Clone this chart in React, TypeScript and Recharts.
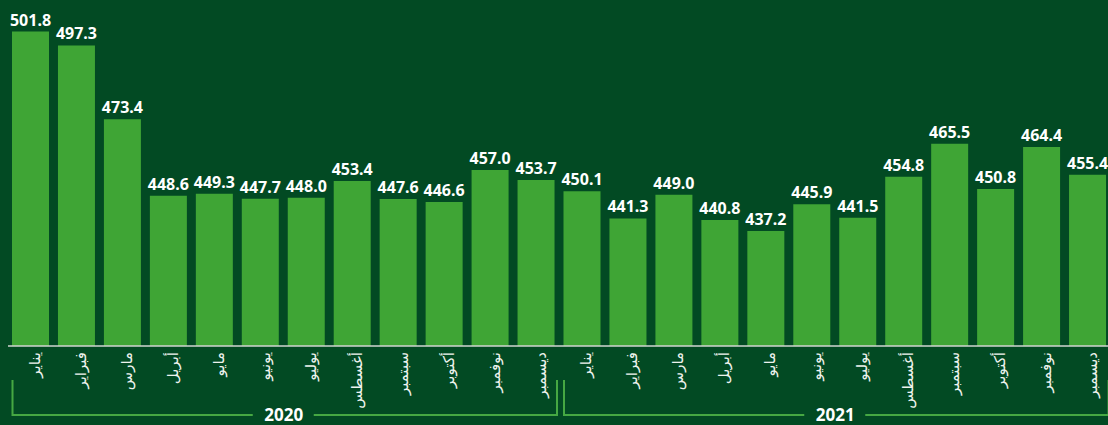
import React from 'react';
import { BarChart, Bar, XAxis, YAxis, LabelList } from 'recharts';

const months = [
  'يناير', 'فبراير', 'مارس', 'أبريل', 'مايو', 'يونيو',
  'يوليو', 'أغسطس', 'سبتمبر', 'أكتوبر', 'نوفمبر', 'ديسمبر'
];
const years = ['2020', '2021'];
const values2020 = [501.8, 497.3, 473.4, 448.6, 449.3, 447.7, 448.0, 453.4, 447.6, 446.6, 457.0, 453.7];
const values2021 = [450.1, 441.3, 449.0, 440.8, 437.2, 445.9, 441.5, 454.8, 465.5, 450.8, 464.4, 455.4];

const data = [
  ...values2020.map((v, i) => ({ id: i, month: months[i], year: years[0], value: v })),
  ...values2021.map((v, i) => ({ id: 12 + i, month: months[i], year: years[1], value: v }))
];

const BG = '#024a23';
const BAR = '#3fa535';
const LINE = '#46a843';

const MonthTick = (props: any) => {
  const { x, y, index } = props;
  const label = data[index]?.month ?? props.payload?.value;
  const tx = x + 4;
  return (
    <text
      x={tx}
      y={y}
      transform={`rotate(-90 ${tx} ${y})`}
      textAnchor='end'
      dominantBaseline='central'
      fill='#eef3ee'
      fontSize={15}
      fontFamily='DejaVu Sans'
    >
      {label}
    </text>
  );
};

const YearTick = (props: any) => {
  const { x, y, payload, width } = props;
  const half = (width ?? 1103) / 4;
  const left = x - half + 4.5;
  const right = x + half - 2.5;
  const top = y + 4;
  const base = y + 39;
  return (
    <g>
      <polyline
        points={`${left},${top} ${left},${base} ${x - 31},${base}`}
        fill='none'
        stroke={LINE}
        strokeWidth={2}
      />
      <polyline
        points={`${x + 30},${base} ${right},${base} ${right},${top}`}
        fill='none'
        stroke={LINE}
        strokeWidth={2}
      />
      <text
        x={x}
        y={base + 6}
        textAnchor='middle'
        fill='#ffffff'
        fontSize={17}
        fontWeight='bold'
        fontFamily='Noto Sans'
      >
        {payload.value}
      </text>
    </g>
  );
};

export default function App() {
  return (
    <div style={{ position: 'absolute', left: 0, top: 0, width: 1108, height: 425, background: BG, overflow: 'hidden' }}>
      <BarChart
        width={1108}
        height={425}
        data={data}
        margin={{ top: 0, right: -3, bottom: 0, left: 8 }}
        barSize={37}
      >
        <XAxis
          xAxisId='month'
          dataKey='id'
          type='category'
          interval={0}
          height={30}
          tickSize={0}
          tickMargin={6}
          tickLine={false}
          axisLine={{ stroke: '#d2d6d2', strokeWidth: 1.5 }}
          tick={<MonthTick />}
        />
        <XAxis
          xAxisId='year'
          dataKey='year'
          type='category'
          allowDuplicatedCategory={false}
          interval={0}
          height={49}
          tickSize={0}
          tickMargin={0}
          tickLine={false}
          axisLine={false}
          tick={<YearTick />}
        />
        <YAxis hide domain={[400, 512]} allowDataOverflow />
        <Bar xAxisId='month' dataKey='value' fill={BAR} isAnimationActive={false}>
          <LabelList
            dataKey='value'
            position='top'
            offset={6}
            formatter={(v: any) => Number(v).toFixed(1)}
            fill='#ffffff'
            fontSize={16}
            fontWeight='bold'
            fontFamily='Noto Sans'
          />
        </Bar>
      </BarChart>
    </div>
  );
}
